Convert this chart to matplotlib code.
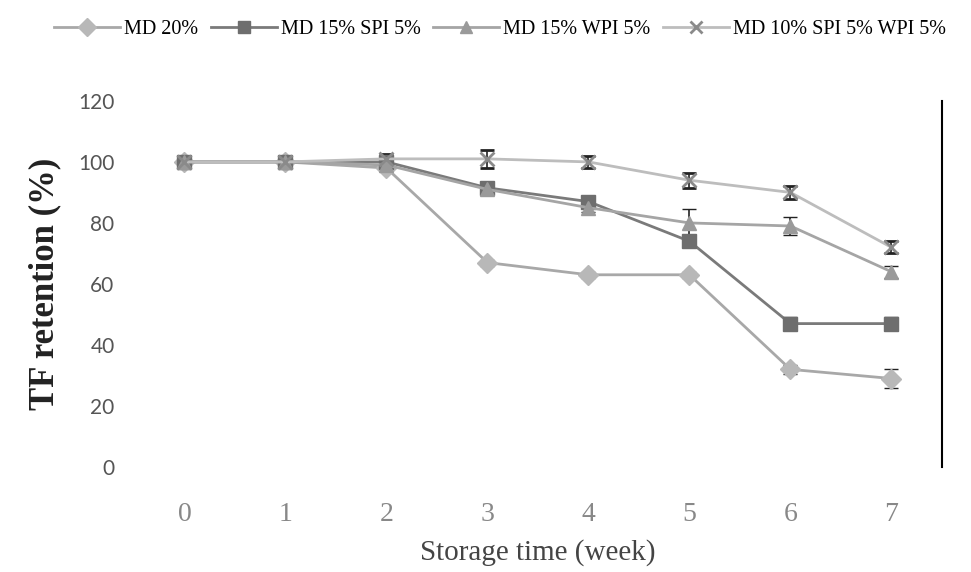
import matplotlib.pyplot as plt
from matplotlib.lines import Line2D

weeks = [0, 1, 2, 3, 4, 5, 6, 7]
md20 = [100, 100, 98, 67, 63, 63, 32, 29]
md20_err = [0.5, 0.5, 1, 1, 1, 1, 1.5, 3]
md15_spi = [100, 100, 100, 91.5, 87, 74, 47, 47]
md15_spi_err = [0.5, 0.5, 1, 1, 1.5, 2, 2, 2]
md15_wpi = [100, 100, 99, 91, 85, 80, 79, 64]
md15_wpi_err = [0.5, 0.5, 1, 1, 1.5, 4.5, 3, 2]
md10_spi_wpi = [100, 100, 101, 101, 100, 94, 90, 72]
md10_spi_wpi_err = [0.5, 1, 1.5, 3, 2, 2.5, 2, 2]

labels = ['MD 20%', 'MD 15% SPI 5%', 'MD 15% WPI 5%', 'MD 10% SPI 5% WPI 5%']

fig = plt.figure(figsize=(9.71, 5.72), dpi=100)
ax = fig.add_axes([0.138, 0.1836, 0.832, 0.64])

series = [
    (md20, md20_err, 'D', '#b8b8b8', '#a8a8a8'),
    (md15_spi, md15_spi_err, 's', '#6e6e6e', '#7a7a7a'),
    (md15_wpi, md15_wpi_err, '^', '#9a9a9a', '#a5a5a5'),
    (md10_spi_wpi, md10_spi_wpi_err, 'x', '#8a8a8a', '#bdbdbd'),
]

handles = []
for (vals, err, mk, mcol, lcol), lab in zip(series, labels):
    mew = 2 if mk == 'x' else 1
    ax.errorbar(weeks, vals, yerr=err, color=lcol, lw=2, marker=mk,
                markersize=10, markerfacecolor=mcol, markeredgecolor=mcol,
                mew=mew, ecolor='#222222', elinewidth=1.2,
                capsize=5, capthick=1.2)
    handles.append(Line2D([], [], color=lcol, lw=2, marker=mk, markersize=9,
                          markerfacecolor=mcol, markeredgecolor=mcol, mew=mew))

ax.set_xlim(-0.5, 7.5)
ax.set_ylim(0, 120)
ax.set_yticks(range(0, 121, 20))
ax.set_xticks(weeks)
ax.tick_params(length=0)
for lab in ax.get_yticklabels():
    lab.set_fontfamily('Lato')
    lab.set_fontsize(15)
    lab.set_color('#555555')
for lab in ax.get_xticklabels():
    lab.set_fontfamily('Liberation Serif')
    lab.set_fontsize(20)
    lab.set_color('#888888')
ax.tick_params(axis='y', pad=14)
ax.tick_params(axis='x', pad=25)

for s in ['top', 'left', 'bottom']:
    ax.spines[s].set_visible(False)
ax.spines['right'].set_color('black')
ax.spines['right'].set_linewidth(1.5)

ax.set_xlabel('Storage time (week)', fontfamily='Liberation Serif',
              fontsize=21, color='#444444', labelpad=9)
ax.set_ylabel('TF retention (%)', fontfamily='Liberation Serif',
              fontsize=25, fontweight='bold', color='#222222', labelpad=12)

fig.legend(handles=handles, labels=labels, loc='upper center',
           bbox_to_anchor=(0.515, 0.997), ncol=4, frameon=False,
           prop={'family': 'Liberation Serif', 'size': 14.5},
           handlelength=3.3, columnspacing=0.6, handletextpad=0.2)

fig.savefig('out.png', dpi=100)
